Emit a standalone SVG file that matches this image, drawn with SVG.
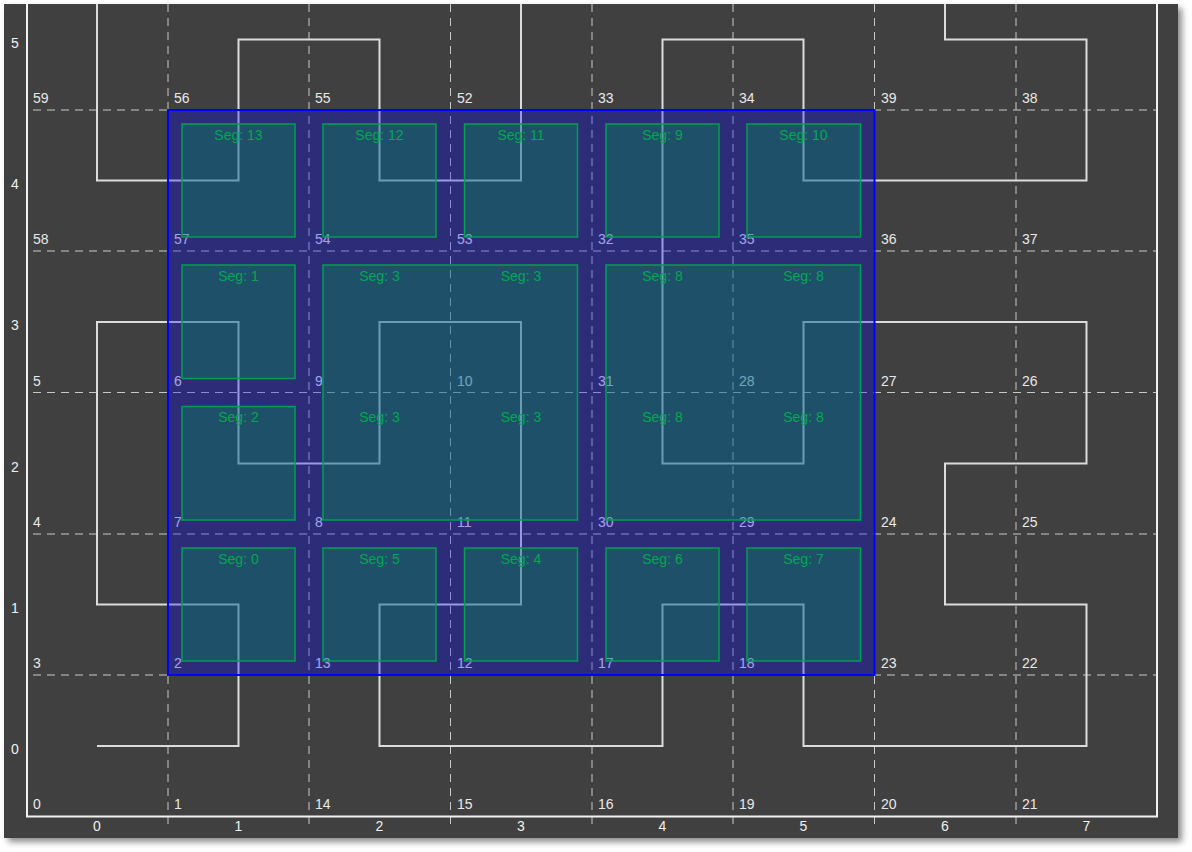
<svg xmlns="http://www.w3.org/2000/svg" width="1192" height="852" viewBox="0 0 1192 852">
<defs>
<filter id="sh" x="-5%" y="-5%" width="110%" height="110%">
<feDropShadow dx="4" dy="4" stdDeviation="3" flood-color="#000" flood-opacity="0.45"/>
</filter>
<clipPath id="plot"><rect x="4" y="4" width="1174" height="834"/></clipPath>
<style>
.grid{stroke:#c8c8c8;stroke-width:1;stroke-dasharray:8 6;fill:none}
.frame{stroke:#f2f2f2;stroke-width:2;fill:none}
.curve{stroke:#dcdcdc;stroke-width:2;fill:none;stroke-linejoin:miter}
.vl{font-family:"Liberation Sans",Arial,sans-serif;font-size:14px;fill:#e8e8e8}
.ax{font-family:"Liberation Sans",Arial,sans-serif;font-size:14px;fill:#f0f0f0;text-anchor:middle}
.seg{fill:rgba(0,170,70,0.3);stroke:#00a050;stroke-width:1.5}
.sl{font-family:"Liberation Sans",Arial,sans-serif;font-size:14px;fill:#00a850;text-anchor:middle}
</style>
</defs>
<rect x="0" y="0" width="1192" height="852" fill="#ffffff"/>
<rect x="4" y="4" width="1174" height="834" fill="#404040" filter="url(#sh)"/>
<g clip-path="url(#plot)">
<g id="grid">
<line class="grid" x1="168" y1="4" x2="168" y2="824"/>
<line class="grid" x1="309" y1="4" x2="309" y2="824"/>
<line class="grid" x1="450.5" y1="4" x2="450.5" y2="824"/>
<line class="grid" x1="592" y1="4" x2="592" y2="824"/>
<line class="grid" x1="733" y1="4" x2="733" y2="824"/>
<line class="grid" x1="874.5" y1="4" x2="874.5" y2="824"/>
<line class="grid" x1="1016" y1="4" x2="1016" y2="824"/>
<line class="grid" x1="33" y1="110" x2="1157" y2="110"/>
<line class="grid" x1="33" y1="251" x2="1157" y2="251"/>
<line class="grid" x1="33" y1="392.5" x2="1157" y2="392.5"/>
<line class="grid" x1="33" y1="534" x2="1157" y2="534"/>
<line class="grid" x1="33" y1="675" x2="1157" y2="675"/>
</g>
<g id="frame">
<polyline class="frame" points="27,0 27,816.5 1157,816.5 1157,0"/>
</g>
<g id="connectors">
<polyline class="curve" points="97,746 238.5,746 238.5,604.5 97,604.5 97,322 238.5,322 238.5,463.5 379.5,463.5 379.5,322 521,322 521,604.5 379.5,604.5 379.5,746 662.5,746 662.5,604.5 803.5,604.5 803.5,746 1086.5,746 1086.5,604.5 945,604.5 945,463.5 1086.5,463.5 1086.5,322 803.5,322 803.5,463.5 662.5,463.5 662.5,39.5 803.5,39.5 803.5,180.5 1086.5,180.5 1086.5,39.5 945,39.5 945,0"/>
<polyline class="curve" points="97,0 97,180.5 238.5,180.5 238.5,39.5 379.5,39.5 379.5,180.5 521,180.5 521,0"/>
</g>
<g id="vertex-labels">
<text class="vl" x="33" y="809">0</text>
<text class="vl" x="174" y="809">1</text>
<text class="vl" x="315" y="809">14</text>
<text class="vl" x="457" y="809">15</text>
<text class="vl" x="598" y="809">16</text>
<text class="vl" x="739" y="809">19</text>
<text class="vl" x="881" y="809">20</text>
<text class="vl" x="1022" y="809">21</text>
<text class="vl" x="33" y="668">3</text>
<text class="vl" x="174" y="668">2</text>
<text class="vl" x="315" y="668">13</text>
<text class="vl" x="457" y="668">12</text>
<text class="vl" x="598" y="668">17</text>
<text class="vl" x="739" y="668">18</text>
<text class="vl" x="881" y="668">23</text>
<text class="vl" x="1022" y="668">22</text>
<text class="vl" x="33" y="527">4</text>
<text class="vl" x="174" y="527">7</text>
<text class="vl" x="315" y="527">8</text>
<text class="vl" x="457" y="527">11</text>
<text class="vl" x="598" y="527">30</text>
<text class="vl" x="739" y="527">29</text>
<text class="vl" x="881" y="527">24</text>
<text class="vl" x="1022" y="527">25</text>
<text class="vl" x="33" y="385.5">5</text>
<text class="vl" x="174" y="385.5">6</text>
<text class="vl" x="315" y="385.5">9</text>
<text class="vl" x="457" y="385.5">10</text>
<text class="vl" x="598" y="385.5">31</text>
<text class="vl" x="739" y="385.5">28</text>
<text class="vl" x="881" y="385.5">27</text>
<text class="vl" x="1022" y="385.5">26</text>
<text class="vl" x="33" y="244">58</text>
<text class="vl" x="174" y="244">57</text>
<text class="vl" x="315" y="244">54</text>
<text class="vl" x="457" y="244">53</text>
<text class="vl" x="598" y="244">32</text>
<text class="vl" x="739" y="244">35</text>
<text class="vl" x="881" y="244">36</text>
<text class="vl" x="1022" y="244">37</text>
<text class="vl" x="33" y="103">59</text>
<text class="vl" x="174" y="103">56</text>
<text class="vl" x="315" y="103">55</text>
<text class="vl" x="457" y="103">52</text>
<text class="vl" x="598" y="103">33</text>
<text class="vl" x="739" y="103">34</text>
<text class="vl" x="881" y="103">39</text>
<text class="vl" x="1022" y="103">38</text>
</g>
<g id="axes">
<text class="ax" x="15" y="754">0</text>
<text class="ax" x="15" y="612.5">1</text>
<text class="ax" x="15" y="471.5">2</text>
<text class="ax" x="15" y="330">3</text>
<text class="ax" x="15" y="188.5">4</text>
<text class="ax" x="15" y="47.5">5</text>
<text class="ax" x="97" y="831">0</text>
<text class="ax" x="238.5" y="831">1</text>
<text class="ax" x="379.5" y="831">2</text>
<text class="ax" x="521" y="831">3</text>
<text class="ax" x="662.5" y="831">4</text>
<text class="ax" x="803.5" y="831">5</text>
<text class="ax" x="945" y="831">6</text>
<text class="ax" x="1086.5" y="831">7</text>
</g>
<g id="region">
<rect x="168" y="110" width="706.5" height="565" fill="rgba(0,0,255,0.3)" stroke="#0000ff" stroke-width="2"/>
</g>
<g id="seg-13"><rect class="seg" x="182" y="124" width="113" height="113"/><text class="sl" x="238.5" y="139.5">Seg: 13</text></g>
<g id="seg-12"><rect class="seg" x="323" y="124" width="113" height="113"/><text class="sl" x="379.5" y="139.5">Seg: 12</text></g>
<g id="seg-11"><rect class="seg" x="464.5" y="124" width="113" height="113"/><text class="sl" x="521" y="139.5">Seg: 11</text></g>
<g id="seg-9"><rect class="seg" x="606" y="124" width="113" height="113"/><text class="sl" x="662.5" y="139.5">Seg: 9</text></g>
<g id="seg-10"><rect class="seg" x="747" y="124" width="113.5" height="113"/><text class="sl" x="803.5" y="139.5">Seg: 10</text></g>
<g id="seg-1"><rect class="seg" x="182" y="265" width="113" height="113.5"/><text class="sl" x="238.5" y="280.5">Seg: 1</text></g>
<g id="seg-2"><rect class="seg" x="182" y="406.5" width="113" height="113.5"/><text class="sl" x="238.5" y="422">Seg: 2</text></g>
<g id="seg-3"><rect class="seg" x="323" y="265" width="254.5" height="255"/>
<text class="sl" x="379.5" y="280.5">Seg: 3</text><text class="sl" x="521" y="280.5">Seg: 3</text>
<text class="sl" x="379.5" y="422">Seg: 3</text><text class="sl" x="521" y="422">Seg: 3</text></g>
<g id="seg-8"><rect class="seg" x="606" y="265" width="254.5" height="255"/>
<text class="sl" x="662.5" y="280.5">Seg: 8</text><text class="sl" x="803.5" y="280.5">Seg: 8</text>
<text class="sl" x="662.5" y="422">Seg: 8</text><text class="sl" x="803.5" y="422">Seg: 8</text></g>
<g id="seg-0"><rect class="seg" x="182" y="548" width="113" height="113"/><text class="sl" x="238.5" y="563.5">Seg: 0</text></g>
<g id="seg-5"><rect class="seg" x="323" y="548" width="113" height="113"/><text class="sl" x="379.5" y="563.5">Seg: 5</text></g>
<g id="seg-4"><rect class="seg" x="464.5" y="548" width="113" height="113"/><text class="sl" x="521" y="563.5">Seg: 4</text></g>
<g id="seg-6"><rect class="seg" x="606" y="548" width="113" height="113"/><text class="sl" x="662.5" y="563.5">Seg: 6</text></g>
<g id="seg-7"><rect class="seg" x="747" y="548" width="113.5" height="113"/><text class="sl" x="803.5" y="563.5">Seg: 7</text></g>
</g>
</svg>
